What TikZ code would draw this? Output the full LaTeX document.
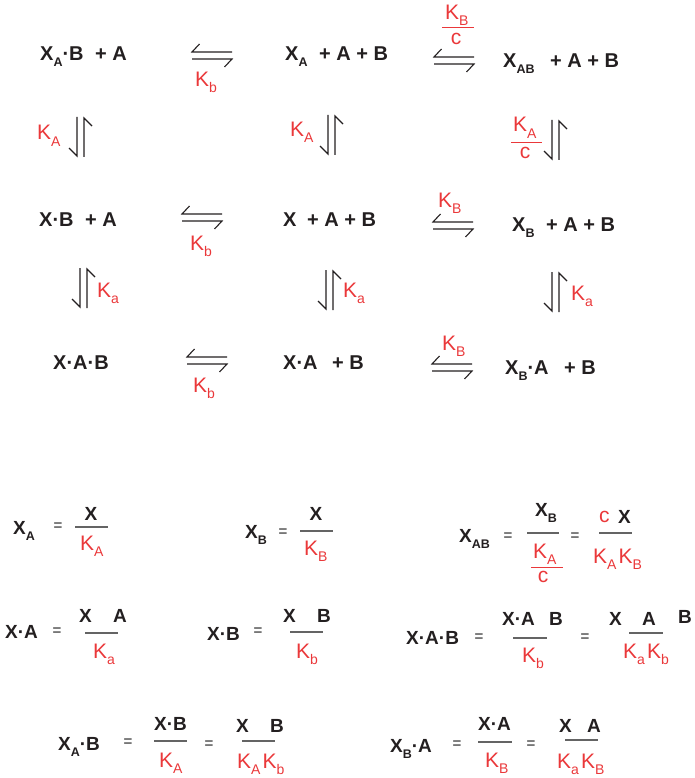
\documentclass[tikz,border=0pt]{standalone}
\usepackage{fontspec}
\setmainfont{Liberation Sans}
\definecolor{ink}{RGB}{35,31,32}
\definecolor{kred}{RGB}{234,56,58}
\definecolor{eqgray}{RGB}{100,100,100}
\newcommand\bs[1]{\raisebox{-6pt}{\fontsize{12.5}{12.5}\selectfont #1}}
\newcommand\rs[1]{\raisebox{-6pt}{\fontsize{14}{14}\selectfont #1}}
\begin{document}
\begin{tikzpicture}[x=1pt,y=-1pt,
 blk/.style={font=\fontsize{20}{20}\selectfont\bfseries,text=ink,inner sep=0pt,anchor=base west},
 blks/.style={font=\fontsize{19}{19}\selectfont\bfseries,text=ink,inner sep=0pt,anchor=base west},
 kr/.style={font=\fontsize{21}{21}\selectfont,text=kred,inner sep=0pt,anchor=base west},
 eqs/.style={font=\fontsize{15}{15}\selectfont\bfseries,text=eqgray,inner sep=0pt,anchor=center},
 harp/.style={draw=ink,line width=1.1pt,line cap=butt,line join=miter},
 fbar/.style={draw=eqgray,line width=1.2pt},
 rbar/.style={draw=kred,line width=1pt},
 heq/.pic={\draw[harp] (7.5,-8)--(0,0)--(40,0); \draw[harp] (0,7)--(40,7)--(32.5,15);},
 veq/.pic={\draw[harp] (0,0)--(0,39)--(-8,31); \draw[harp] (15,9)--(7,1)--(7,40);}
]
\useasboundingbox (0,0) rectangle (694,778);
% ---- scheme: species
\node[blk] (t1) at (40,61) {X\bs{A}·B\hspace{6pt} + A};
\node[blk] (t2) at (285,61) {X\bs{A}\hspace{6pt} + A + B};
\node[blk] (t3) at (503,68) {X\bs{AB}\hspace{10pt} + A + B};
\node[blk] (t4) at (39,226) {X·B\hspace{6pt} + A};
\node[blk] (t5) at (283,226) {X\hspace{5pt} + A + B};
\node[blk] (t6) at (512,231) {X\bs{B}\hspace{6pt} + A + B};
\node[blk] (t7) at (53,369) {X·A·B};
\node[blk] (t8) at (283,369) {X·A\hspace{9pt} + B};
\node[blk] (t9) at (505,374) {X\bs{B}·A\hspace{10pt} + B};
% ---- scheme: constants
\node[kr] (k1) at (195,87) {K\rs{b}};
\node[kr] (k2) at (445,20) {K\rs{B}};
\draw[rbar] (442,28) -- (474,28);
\node[kr,anchor=base] (c2) at (456,45) {c};
\node[kr] (k3) at (37,140) {K\rs{A}};
\node[kr] (k4) at (290,137) {K\rs{A}};
\node[kr] (k5) at (513,132) {K\rs{A}};
\draw[rbar] (511,143)--(542,143);
\node[kr,anchor=base] (c5) at (525,159) {c};
\node[kr] (k6) at (190,250) {K\rs{b}};
\node[kr] (k7) at (438,207) {K\rs{B}};
\node[kr] (k8) at (97,297) {K\rs{a}};
\node[kr] (k9) at (343,297) {K\rs{a}};
\node[kr] (k10) at (571,300) {K\rs{a}};
\node[kr] (k11) at (193,392) {K\rs{b}};
\node[kr] (k12) at (442,350) {K\rs{B}};
% ---- scheme: arrows
\pic at (192,52) {heq};
\pic at (434,57) {heq};
\pic at (182,214) {heq};
\pic at (433,222) {heq};
\pic at (187,357) {heq};
\pic at (432,364) {heq};
\pic at (77,117) {veq};
\pic at (328,115) {veq};
\pic at (552,120) {veq};
\pic at (80,268) {veq};
\pic at (326,270) {veq};
\pic at (552,272) {veq};
% ---- equations row 1
\node[blks] (e1l) at (13,534) {X\bs{A}};
\node[eqs] (e1q) at (58,527) {=};
\node[blks,anchor=base] (e1n) at (91,520) {X};
\draw[fbar] (75,527)--(108,527);
\node[kr] (e1d) at (80,550) {K\rs{A}};
\node[blks] (e2l) at (245,538) {X\bs{B}};
\node[eqs] (e2q) at (283,533) {=};
\node[blks,anchor=base] (e2n) at (316,520) {X};
\draw[fbar] (300,531)--(333,531);
\node[kr] (e2d) at (304,555) {K\rs{B}};
\node[blks] (e3l) at (459,542) {X\bs{AB}};
\node[eqs] (e3q) at (508,537) {=};
\node[blks] (e3n) at (535,516) {X\bs{B}};
\draw[fbar] (527,533)--(559,533);
\node[kr] (e3d) at (533,558) {K\rs{A}};
\draw[rbar] (531,567)--(563,567);
\node[kr,anchor=base] (e3c) at (543,582) {c};
\node[eqs] (e3q2) at (575,537) {=};
\node[kr] (e3c2) at (599,522) {c};
\node[blks] (e3n2) at (618,523) {X};
\draw[fbar] (599,533)--(632,533);
\node[kr] (e3d2) at (593,563) {K\rs{A}\hspace{2pt}K\rs{B}};
% ---- equations row 2
\node[blks] (e4l) at (5,638) {X·A};
\node[eqs] (e4q) at (57,632) {=};
\node[blks] (e4x) at (79,622) {X};
\node[blks] (e4a) at (113,622) {A};
\draw[fbar] (85,633)--(118,633);
\node[kr] (e4d) at (93,658) {K\rs{a}};
\node[blks] (e5l) at (207,640) {X·B};
\node[eqs] (e5q) at (258,632) {=};
\node[blks] (e5x) at (283,622) {X};
\node[blks] (e5b) at (317,622) {B};
\draw[fbar] (290,632)--(323,632);
\node[kr] (e5d) at (296,658) {K\rs{b}};
\node[blks] (e6l) at (406,644) {X·A·B};
\node[eqs] (e6q) at (479,638) {=};
\node[blks] (e6n) at (502,625) {X·A};
\node[blks] (e6b) at (549,625) {B};
\draw[fbar] (513,638)--(547,638);
\node[kr] (e6d) at (522,662) {K\rs{b}};
\node[eqs] (e6q2) at (585,638) {=};
\node[blks] (e6x) at (609,625) {X};
\node[blks] (e6a) at (642,625) {A};
\node[blks] (e6b2) at (678,623) {B};
\draw[fbar] (629,633)--(663,633);
\node[kr] (e6d2) at (623,658) {K\rs{a}\hspace{2pt}K\rs{b}};
% ---- equations row 3
\node[blks] (e7l) at (58,750) {X\bs{A}·B};
\node[eqs] (e7q) at (128,743) {=};
\node[blks] (e7n) at (154,730) {X·B};
\draw[fbar] (154,741)--(187,741);
\node[kr] (e7d) at (159,767) {K\rs{A}};
\node[eqs] (e7q2) at (209,745) {=};
\node[blks] (e7x) at (236,732) {X};
\node[blks] (e7b) at (270,732) {B};
\draw[fbar] (242,741)--(275,741);
\node[kr] (e7d2) at (237,768) {K\rs{A}\hspace{2pt}K\rs{b}};
\node[blks] (e8l) at (390,752) {X\bs{B}·A};
\node[eqs] (e8q) at (457,745) {=};
\node[blks] (e8n) at (478,730) {X·A};
\draw[fbar] (478,742)--(512,742);
\node[kr] (e8d) at (485,767) {K\rs{B}};
\node[eqs] (e8q2) at (531,745) {=};
\node[blks] (e8x) at (559,732) {X};
\node[blks] (e8a) at (587,732) {A};
\draw[fbar] (565,740)--(598,740);
\node[kr] (e8d2) at (557,768) {K\rs{a}\hspace{2pt}K\rs{B}};
\end{tikzpicture}
\end{document}
